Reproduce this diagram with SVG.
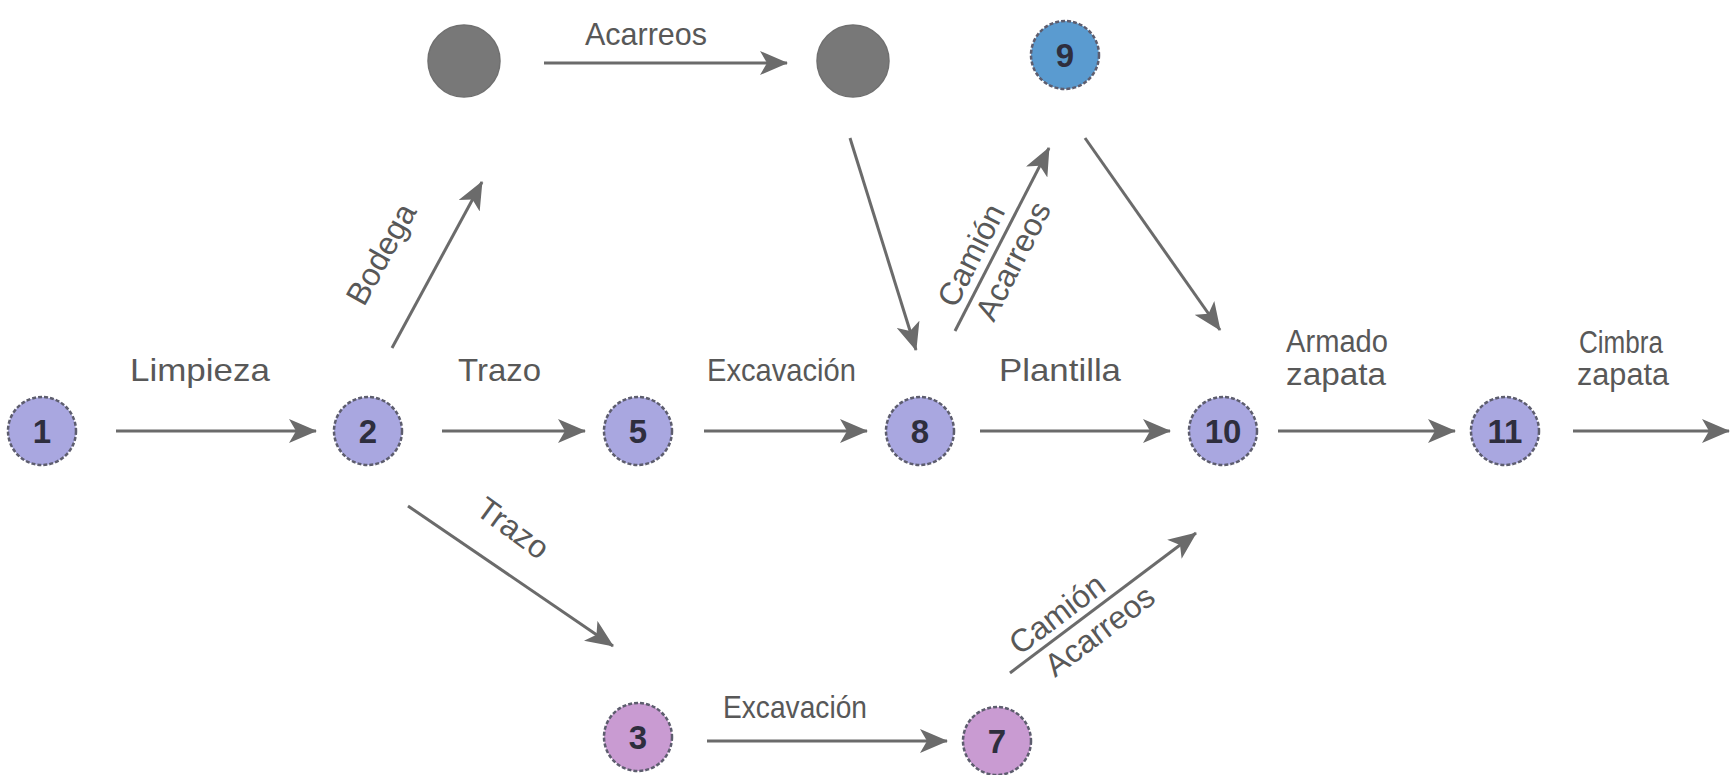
<svg xmlns="http://www.w3.org/2000/svg" width="1731" height="775" viewBox="0 0 1731 775">
<style>
.bg{fill:#ffffff}
.node{fill:#a9a7e0;stroke:#5d5d6e;stroke-width:2.5;stroke-dasharray:4 2}
.pink{fill:#c99bd2}
.blue{fill:#5a9bd0}
.gray{fill:#787878;stroke:#707070;stroke-width:1.5;stroke-dasharray:none}
.num{font-family:"Liberation Sans",Arial,sans-serif;font-size:33px;font-weight:bold;fill:#2e2e3e;text-anchor:middle}
.lbl{font-family:"Liberation Sans",Arial,sans-serif;font-size:32px;fill:#585858}
.sm{font-size:31px}
.mid{text-anchor:middle}
.edge{fill:none;stroke:#6b6b6b;stroke-width:3;marker-end:url(#ah)}
</style>
<defs>
<marker id="ah" viewBox="0 0 28 24" markerWidth="28" markerHeight="24" refX="27" refY="12" markerUnits="userSpaceOnUse" orient="auto">
<path d="M0,0 L28,12 L0,24 L7,12 Z" fill="#6b6b6b"/>
</marker>
</defs>
<rect class="bg" x="0" y="0" width="1731" height="775"/>
<g id="connectors">
<path class="edge" d="M116,431 H316"/>
<path class="edge" d="M442,431 H585"/>
<path class="edge" d="M704,431 H867"/>
<path class="edge" d="M980,431 H1170"/>
<path class="edge" d="M1278,431 H1455"/>
<path class="edge" d="M1573,431 H1729"/>
<path class="edge" d="M544,63 H787"/>
<path class="edge" d="M392,348 L482,182"/>
<path class="edge" d="M850,138 L916,350"/>
<path class="edge" d="M955,331 L1049,148"/>
<path class="edge" d="M1085,138 L1220,330"/>
<path class="edge" d="M408,506 L613,646"/>
<path class="edge" d="M707,741 H947"/>
<path class="edge" d="M1010,673 L1196,533"/>
</g>
<g id="labels">
<text class="lbl" x="130" y="381" textLength="140" lengthAdjust="spacingAndGlyphs">Limpieza</text>
<text class="lbl" x="458" y="381" textLength="83" lengthAdjust="spacingAndGlyphs">Trazo</text>
<text class="lbl" x="707" y="381" textLength="149" lengthAdjust="spacingAndGlyphs">Excavación</text>
<text class="lbl" x="999" y="381" textLength="122" lengthAdjust="spacingAndGlyphs">Plantilla</text>
<text class="lbl sm" x="1286" y="352" textLength="102" lengthAdjust="spacingAndGlyphs">Armado</text>
<text class="lbl sm" x="1286" y="385" textLength="100" lengthAdjust="spacingAndGlyphs">zapata</text>
<text class="lbl sm" x="1579" y="353" textLength="84" lengthAdjust="spacingAndGlyphs">Cimbra</text>
<text class="lbl sm" x="1577" y="385" textLength="92" lengthAdjust="spacingAndGlyphs">zapata</text>
<text class="lbl" x="585" y="45" textLength="122" lengthAdjust="spacingAndGlyphs">Acarreos</text>
<text class="lbl" x="723" y="718" textLength="144" lengthAdjust="spacingAndGlyphs">Excavación</text>
<text class="lbl mid" transform="translate(381,254) rotate(-61)" x="0" y="11">Bodega</text>
<text class="lbl mid" transform="translate(513,528) rotate(36)" x="0" y="11">Trazo</text>
<g transform="translate(992,258) rotate(-63)">
<text class="lbl mid" x="-7" y="-9">Camión</text>
<text class="lbl mid" x="7" y="31">Acarreos</text>
</g>
<g transform="translate(1078,622) rotate(-37)">
<text class="lbl mid" x="-12" y="-8">Camión</text>
<text class="lbl mid" x="12" y="31">Acarreos</text>
</g>
</g>
<g id="n1"><circle class="node" cx="42" cy="431" r="34"/><text class="num" x="42" y="443">1</text></g>
<g id="n2"><circle class="node" cx="368" cy="431" r="34"/><text class="num" x="368" y="443">2</text></g>
<g id="n5"><circle class="node" cx="638" cy="431" r="34"/><text class="num" x="638" y="443">5</text></g>
<g id="n8"><circle class="node" cx="920" cy="431" r="34"/><text class="num" x="920" y="443">8</text></g>
<g id="n10"><circle class="node" cx="1223" cy="431" r="34"/><text class="num" x="1223" y="443">10</text></g>
<g id="n11"><circle class="node" cx="1505" cy="431" r="34"/><text class="num" x="1505" y="443">11</text></g>
<g id="gA"><circle class="node gray" cx="464" cy="61" r="36"/></g>
<g id="gB"><circle class="node gray" cx="853" cy="61" r="36"/></g>
<g id="n9"><circle class="node blue" cx="1065" cy="55" r="34"/><text class="num" x="1065" y="67">9</text></g>
<g id="n3"><circle class="node pink" cx="638" cy="737" r="34"/><text class="num" x="638" y="749">3</text></g>
<g id="n7"><circle class="node pink" cx="997" cy="741" r="34"/><text class="num" x="997" y="753">7</text></g>
</svg>
